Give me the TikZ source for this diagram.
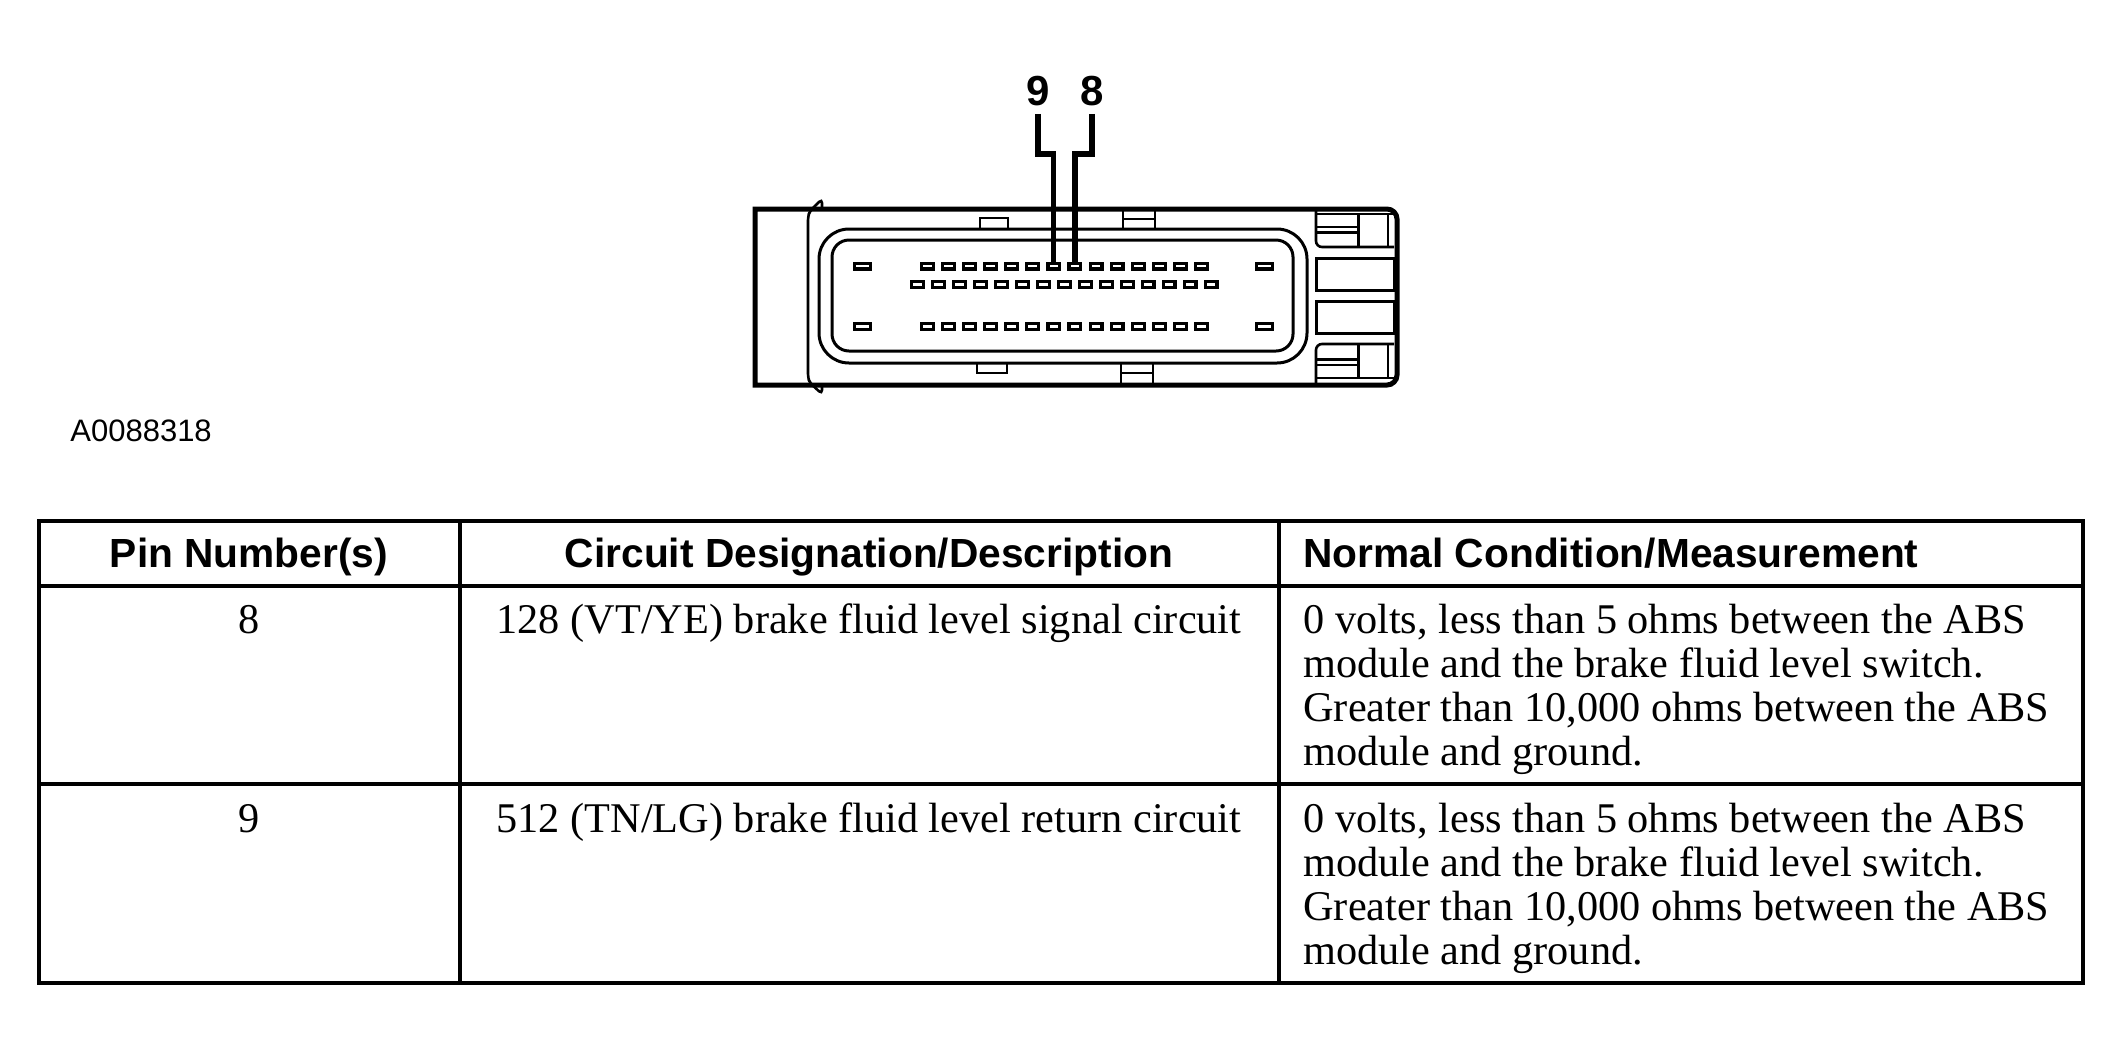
\documentclass[tikz,border=0pt]{standalone}
\usepackage{fontspec}
\setmainfont{Liberation Serif}
\setsansfont{Liberation Sans}
\usepackage{tikz}

\tikzset{
  pinbox/.style={draw, line width=1.6pt, minimum width=5.9pt, minimum height=2.9pt, inner sep=0pt, outer sep=0pt},
  bigpin/.style={pinbox, minimum width=7.9pt, minimum height=2.9pt},
  leader/.style={line width=2.6pt},
  shell/.style={line width=2.5pt},
  seal/.style={line width=1.5pt},
  detail/.style={line width=1.3pt},
  tbl/.style={line width=2pt},
  pinlabel/.style={font=\sffamily\bfseries\fontsize{21pt}{24pt}\selectfont, inner sep=4pt},
  hdr/.style={font=\sffamily\bfseries\fontsize{20.35pt}{24pt}\selectfont, inner sep=0pt},
  cell/.style={font=\fontsize{21.15pt}{22pt}\selectfont, inner sep=0pt}
}

\begin{document}
\begin{tikzpicture}[x=0.5pt, y=-0.5pt]
\useasboundingbox (0,0) rectangle (2124,1061);

% connector shell
\draw[shell] (1000,209) [rounded corners=5pt] -- (1397,209) -- (1397,385) -- (1000,385) [sharp corners] -- (755,385) -- (755,209) -- cycle;
\draw[detail, rounded corners=2pt] (822,209) -- (822,199) -- (810,211) -- (808,216) -- (808,378) -- (810,383) -- (822,394) -- (822,385);

% locking tabs
\draw[detail] (980,218) rectangle (1008,229);
\draw[detail] (1123,209) rectangle (1155,229) (1123,219) -- (1155,219);
\draw[detail] (977,363) rectangle (1007,373);
\draw[detail] (1121,363) rectangle (1153,385) (1121,373) -- (1153,373);

% seals
\draw[seal, rounded corners=15pt] (819,229) rectangle (1307,363);
\draw[seal, rounded corners=8.5pt] (832,240) rectangle (1293,351);

% right end
\draw[detail, rounded corners=3pt] (1316,209) -- (1316,247) -- (1394,247);
\draw[detail] (1316,214) -- (1394,214) (1316,227) -- (1358,227) (1316,232.5) -- (1358,232.5) (1388,214) -- (1388,247);
\draw[seal] (1358,214) -- (1358,247);
\draw[seal] (1316,258) rectangle (1394,290);
\draw[seal] (1316,301) rectangle (1394,333);
\draw[detail, rounded corners=3pt] (1316,385) -- (1316,344) -- (1394,344);
\draw[detail] (1316,378) -- (1394,378) (1316,365) -- (1358,365) (1316,359.5) -- (1358,359.5) (1388,344) -- (1388,378);
\draw[seal] (1358,344) -- (1358,378);

% pins
\node[bigpin] (c1l) at (862.5,266) {};
\node[bigpin] (c1r) at (1264.5,266) {};
\node[bigpin] (c3l) at (862.5,326.5) {};
\node[bigpin] (c3r) at (1264.5,326.5) {};
\foreach \i in {1,...,14} \node[pinbox] (r1p\i) at ({927.3+21.09*(\i-1)},266) {};
\foreach \i in {1,...,15} \node[pinbox] (r2p\i) at ({917.7+20.95*(\i-1)},284.5) {};
\foreach \i in {1,...,14} \node[pinbox] (r3p\i) at ({927.3+21.09*(\i-1)},326.5) {};

% pin callouts
\node[pinlabel, anchor=base] (lbl9) at (1038,105) {9};
\node[pinlabel, anchor=base] (lbl8) at (1092,105) {8};
\coordinate (knee) at (0,154);
\draw[leader] (lbl9.south) |- (r1p7 |- knee) -- (r1p7.north);
\draw[leader] (lbl8.south) |- (r1p8 |- knee) -- (r1p8.north);

\node[font=\sffamily\fontsize{15.5pt}{18pt}\selectfont, inner sep=0pt, anchor=base west] (artno) at (70,441) {A0088318};

% table
\draw[tbl] (38.5,521) rectangle (2083,983);
\draw[tbl] (38.5,585.5) -- (2083,585.5) (38.5,784) -- (2083,784);
\draw[tbl] (459.5,521) -- (459.5,983) (1278.5,521) -- (1278.5,983);

\node[hdr, anchor=base] (hpin) at (249,567.6) {Pin Number(s)};
\node[hdr, anchor=base] (hcirc) at (869,567.6) {Circuit Designation/Description};
\node[hdr, anchor=base west] (hcond) at (1303,567.6) {Normal Condition/Measurement};

% multi-line cells sit on their last baseline
\node[cell, anchor=base] (pin8) at (249,633) {8};
\node[cell, anchor=base] (circ8) at (869,633) {128 (VT/YE) brake fluid level signal circuit};
\node[cell, anchor=base west, align=left] (cond8) at (1303,765) {0 volts, less than 5 ohms between the ABS\\module and the brake fluid level switch.\\Greater than 10,000 ohms between the ABS\\module and ground.};

\node[cell, anchor=base] (pin9) at (249,832) {9};
\node[cell, anchor=base] (circ9) at (869,832) {512 (TN/LG) brake fluid level return circuit};
\node[cell, anchor=base west, align=left] (cond9) at (1303,964) {0 volts, less than 5 ohms between the ABS\\module and the brake fluid level switch.\\Greater than 10,000 ohms between the ABS\\module and ground.};
\end{tikzpicture}
\end{document}
